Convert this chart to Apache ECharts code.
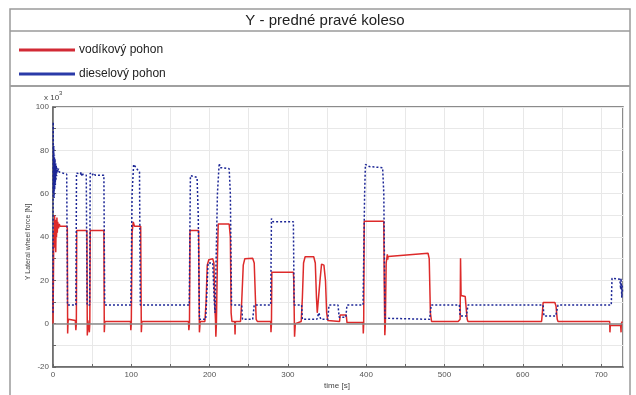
<!DOCTYPE html>
<html><head><meta charset="utf-8">
<script src="https://cdn.jsdelivr.net/npm/echarts@6/dist/echarts.min.js"></script>
<style>html,body{margin:0;padding:0;background:#fff}#c{width:636px;height:395px}</style>
</head><body><div id="c"></div>
<script>
const titleText = 'Y - predné pravé koleso';
const seriesNames = ['vodíkový pohon', 'dieselový pohon'];
const xTickLabels = [0, 100, 200, 300, 400, 500, 600, 700];
const yTickLabels = [-20, 0, 20, 40, 60, 80, 100];

// vodíkový pohon (time [s], force x10^3 N)
const hydTime = [0,0.5,1,1.5,2,2.5,3,3.5,4,4.5,5,5.5,6,7,8,9,17.5,18.3,18.7,19.2,19.8,28.5,29.2,29.8,30.3,43.3,43.8,44.5,46,46.4,47,47.6,65,65.5,66.2,99,99.4,100,101,102.5,104,112,112.8,113.5,173,173.5,174.3,175,186,187,188,194,195.5,197,199,204,205.5,206.5,207.5,208,208.7,210,211,225,226.5,227.5,228.5,232,232.5,233,239.5,241,243,245,255,257,258.5,259.5,261,278,278.4,279,279.5,307,307.5,308.5,309.5,317,318.5,320,322,333,335,336.5,337.5,339.5,341,343,346,348,349.5,351,366,366.8,374.5,375.5,396,396.3,396.8,397.5,422.5,423,423.8,424.5,425.5,426.5,427,427.5,428,429,479,480.5,482,483.5,517.5,520,520.5,521.2,526.5,527.5,529,530,624,625,626,641,642.5,644,645,711,711.3,711.8,725,725.5,725.8,727];
const hydForce = [0,20,42,35,50,38,48,33,46,40,49,42,47,44,46,45,45,44,-4.5,0.8,2,1.5,-3,0,43,43,-5.5,1.5,1.5,-4,0,43,43,-4,1,1,-3,0,42,47,45,45,-4,1,1,-3,0,43,43,-4,1,1,10,27,29.5,30,28,10,2,-6,0,30,46,46,40,5,1,1,-5,1,1,10,27,30,30.2,28,12,2,1,1,-4,0,23.7,23.7,20,-6,0,1,12,28,30.9,30.9,28,12,5,5,20,27.5,27,20,5,1.5,1,4,4,0.5,0.5,-4.5,0,47.3,47.3,20,-5.3,0,28,30.5,32,29.5,31,30.6,32.5,30,5,1,1,2,30.2,13,12.5,8,2,1,1,5,9.8,9.8,8,2,1,1,-4,-0.8,-0.8,-4,0,1];

// dieselový pohon
const dslTime = [0,0.3,0.6,1,1.4,1.8,2.2,2.6,3,3.4,3.8,4.2,4.6,5,6,7,8,10,17.5,18.5,29.3,30,35,36,37,38,42.5,43.5,46.8,47.5,50,52,54,65,66,99.5,101,103,104,108,110.5,111.5,174,175.5,184,185.5,187,195,196,198,204,206,207,208.5,210,212,212.5,213,216,225,226.5,228,241,242,255,257,278,279,281,307,308,317.5,318.5,337,339.5,342,351,352.5,364,365.5,374,375.5,396,398,399,404,421,422.5,424,481,483,519,520,528,530,626,627,642,645,713,714,724,725,725.5,726.5,727,727.5];
const dslForce = [5,93,60,82,58,78,62,76,64,74,66,73,68,72,70,71.5,70,70.5,69,8.6,8.6,69.5,69,70,68,69,68.5,8.6,8.6,69.5,68.5,69.5,68.5,68.5,8.6,8.6,60,73.5,74,71,70,8.6,8.6,68.3,67.5,50,2,2,10,28,28,10,5,5,60,72.5,74,72,72,71.5,60,8.6,8.6,2,2,8.6,8.6,48.5,47,47,8.6,8.6,2,2,5,2,2,8.6,8.6,3,3,8.6,8.6,60,73.5,72.5,72,60,2.5,2,8.6,8.6,3.5,3.5,8.6,8.6,3.5,3.5,8.6,8.6,21,20.5,16,21,12,18,14];

const pairs = (t, v) => t.map((x, i) => [x, v[i]]);
const FONT = 'Liberation Sans, Arial, sans-serif';
const chart = echarts.init(document.getElementById('c'), null, {renderer: 'canvas'});
chart.setOption({
  animation: false,
  backgroundColor: '#fff',
  title: {text: titleText, left: 320, textAlign: 'center', top: 8,
    textStyle: {fontFamily: FONT, fontSize: 15, fontWeight: 'normal', color: '#222'}},
  legend: {orient: 'vertical', left: 14, top: 39, itemWidth: 56, itemHeight: 3, itemGap: 12,
    icon: 'rect', data: seriesNames,
    textStyle: {fontFamily: FONT, fontSize: 12, color: '#222', padding: [0,0,0,-1]}},
  grid: {left: 53, top: 107, right: 13, bottom: 28, show: true, borderColor: '#666', borderWidth: 1.5, backgroundColor: 'transparent'},
  xAxis: {type: 'value', min: 0, max: 728, interval: 50,
    axisLine: {onZero: false, lineStyle: {color: '#666', width: 1.5}},
    axisTick: {inside: true, length: 3, lineStyle: {color: '#666'}},
    axisLabel: {showMaxLabel: false, fontFamily: FONT, fontSize: 8, color: '#555', margin: 4,
      formatter: v => xTickLabels.includes(v) ? String(v) : ''},
    splitLine: {lineStyle: {color: '#e8e8e8', width: 1}}},
  yAxis: {type: 'value', min: -20, max: 100, interval: 10,
    axisLine: {show: true, lineStyle: {color: '#666', width: 1.5}},
    axisTick: {show: true, inside: true, length: 3, lineStyle: {color: '#666'}},
    axisLabel: {fontFamily: FONT, fontSize: 8, color: '#555', margin: 4,
      formatter: v => yTickLabels.includes(v) ? String(v) : ''},
    splitLine: {lineStyle: {color: '#e8e8e8', width: 1}}},
  series: [
    {name: seriesNames[1], type: 'line', data: pairs(dslTime, dslForce), showSymbol: false, z: 3,
      itemStyle: {color: '#2a3aa8'},
      lineStyle: {color: '#1c2696', width: 1.5, type: [2, 2]},
      markLine: {silent: true, symbol: 'none', label: {show: false},
        lineStyle: {color: '#8a8a8a', width: 1.5, type: 'solid'}, data: [{yAxis: 0}]}},
    {name: seriesNames[0], type: 'line', data: pairs(hydTime, hydForce), showSymbol: false, z: 2,
      itemStyle: {color: '#d22a35'},
      lineStyle: {color: '#dd2a2a', width: 1.5}}
  ],
  graphic: [
    {type: 'rect', shape: {x: 10, y: 9, width: 620, height: 400}, style: {fill: 'none', stroke: '#9a9a9a', lineWidth: 1.5}, silent: true},
    {type: 'line', shape: {x1: 10, y1: 31, x2: 630, y2: 31}, style: {stroke: '#9a9a9a', lineWidth: 1.5}, silent: true},
    {type: 'line', shape: {x1: 10, y1: 86, x2: 630, y2: 86}, style: {stroke: '#a0a0a0', lineWidth: 2}, silent: true},
    {type: 'text', x: 44, y: 90, style: {text: '{a|x 10}{b|3}', rich: {a: {fontFamily: FONT, fontSize: 8, fill: '#444', verticalAlign: 'bottom', lineHeight: 12}, b: {fontFamily: FONT, fontSize: 6, fill: '#444', verticalAlign: 'top', lineHeight: 8}}}, silent: true},
    {type: 'text', x: 28, y: 242, rotation: Math.PI / 2, style: {text: 'Y Lateral wheel force [N]', fontFamily: FONT, fontSize: 7, fill: '#444', align: 'center', verticalAlign: 'middle'}, silent: true},
    {type: 'text', x: 337, y: 386, style: {text: 'time [s]', fontFamily: FONT, fontSize: 8, fill: '#444', align: 'center', verticalAlign: 'middle'}, silent: true}
  ]
});
</script></body></html>
